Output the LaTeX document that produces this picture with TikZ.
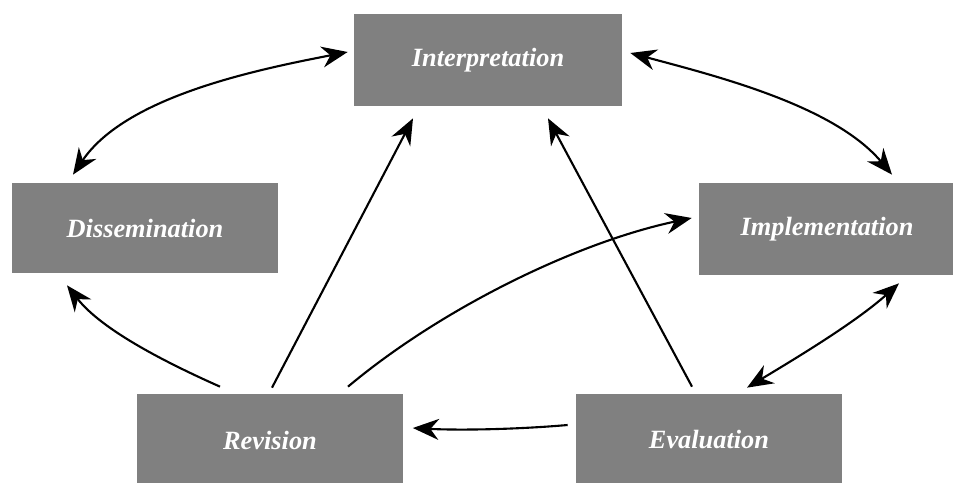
\documentclass[tikz,border=0pt]{standalone}
\usepackage{fontspec}
\usepackage{tikz}
\usetikzlibrary{arrows.meta,calc}
\newfontfamily\stagefont{Liberation Serif}
\definecolor{boxgray}{RGB}{128,128,128}

\begin{document}
\begin{tikzpicture}[x=0.02cm, y=0.02cm,
	>={Stealth[length=0.52cm, width=0.42cm]},
	stage/.style={fill=boxgray, text=white, font=\stagefont\fontsize{15}{18}\selectfont\bfseries\itshape, minimum height=1.84cm, inner sep=0pt},
	link/.style={line width=1.2pt, looseness=0.8}]
	\useasboundingbox (0,0) rectangle (953,483);
	% the five stages
	\node[stage, minimum width=5.36cm] (interp) at (488,423) {Interpretation};
	\node[stage, minimum width=5.32cm, minimum height=1.8cm] (dissem) at (145,255) {Dissemination};
	\node[stage, minimum width=5.12cm] (implem) at (827,254) {Implementation};
	\node[stage, minimum width=5.34cm] (revis) at (270,43) {Revision};
	\node[stage, minimum width=5.32cm] (evalu) at (709,43) {Evaluation};
	% two-way links
	\draw[link, <->] ($(dissem.north)+(-72,8)$) to[out=56, in=191] ($(interp.west)+(-6,8)$);
	\draw[link, <->] ($(interp.east)+(8,7)$) to[out=-15, in=130] ($(implem.north)+(65,8)$);
	\draw[link, <->] ($(evalu.north)+(38,6)$) to[out=31, in=222] ($(implem.south)+(72,-8)$);
	% one-way links
	\draw[link, ->] ($(revis.north)+(-50,7)$) to[out=156, in=-52] ($(dissem.south)+(-78,-12)$);
	\draw[link, ->] ($(revis.north)+(2,6)$) -- ($(interp.south)+(-75,-12)$);
	\draw[link, ->] ($(revis.north)+(78,7)$) to[out=40, in=192] ($(implem.west)+(-7,11)$);
	\draw[link, ->] ($(evalu.north)+(-17,7)$) -- ($(interp.south)+(60,-12)$);
	\draw[link, ->] ($(evalu.west)+(-8,15)$) to[out=185, in=-3] ($(revis.east)+(9,12)$);
\end{tikzpicture}
\end{document}
